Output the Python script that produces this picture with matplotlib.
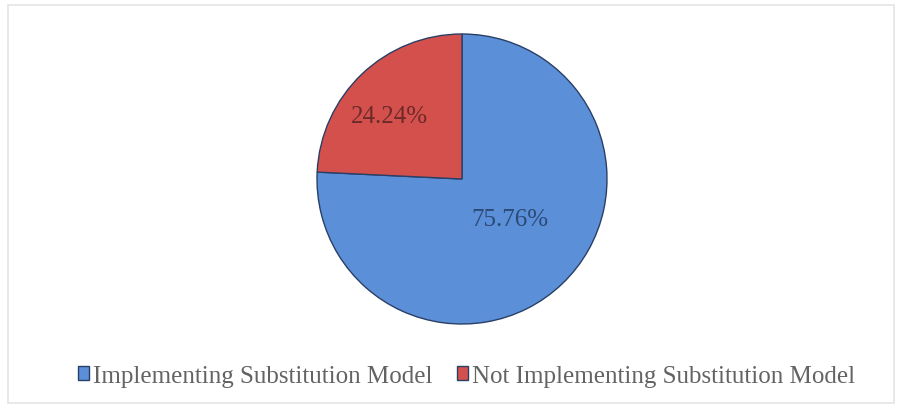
import numpy as np
import matplotlib.pyplot as plt
from matplotlib.patches import Rectangle

labels = ["Implementing Substitution Model", "Not Implementing Substitution Model"]
values = [75.76, 24.24]
colors = ["#5b8fd8", "#d3504c"]
text_colors = ["#2c4a78", "#6e2a28"]
# label placement: (fraction of radius, angle shift from wedge middle in degrees)
label_pos = [(0.43, 6.5), (0.66, 5.5)]

fig = plt.figure(figsize=(9.02, 4.10), dpi=100)
plt.rcParams['font.family'] = ['Liberation Serif', 'DejaVu Serif']

# light frame round the chart area
fig.patches.append(Rectangle((8 / 902, 6 / 410), 886 / 902, 398 / 410,
                             transform=fig.transFigure, fill=False,
                             edgecolor="#e4e4e4", linewidth=1.2))

ax = fig.add_axes([(462 - 145) / 902, (410 - 180 - 145) / 410, 290 / 902, 290 / 410])
wedges, _ = ax.pie(values, colors=colors, startangle=90, counterclock=False,
                   wedgeprops=dict(edgecolor="#2a3f66", linewidth=1.0))
ax.set_xlim(-1, 1)
ax.set_ylim(-1, 1)
ax.set_aspect("equal")

for w, v, (d, shift), c in zip(wedges, values, label_pos, text_colors):
    ang = np.deg2rad((w.theta1 + w.theta2) / 2 + shift)
    ax.text(d * np.cos(ang), d * np.sin(ang), f"{v:.2f}%", ha="center", va="center",
            fontsize=18, color=c)

leg = fig.legend(wedges, labels, loc="center", bbox_to_anchor=(0.517, 1 - 377 / 410),
                 ncol=2, frameon=False, fontsize=18, handlelength=0.45, handleheight=0.45,
                 handletextpad=0.15, columnspacing=1.0)
for t in leg.get_texts():
    t.set_color("#636363")

fig.savefig("out.png", dpi=100)
